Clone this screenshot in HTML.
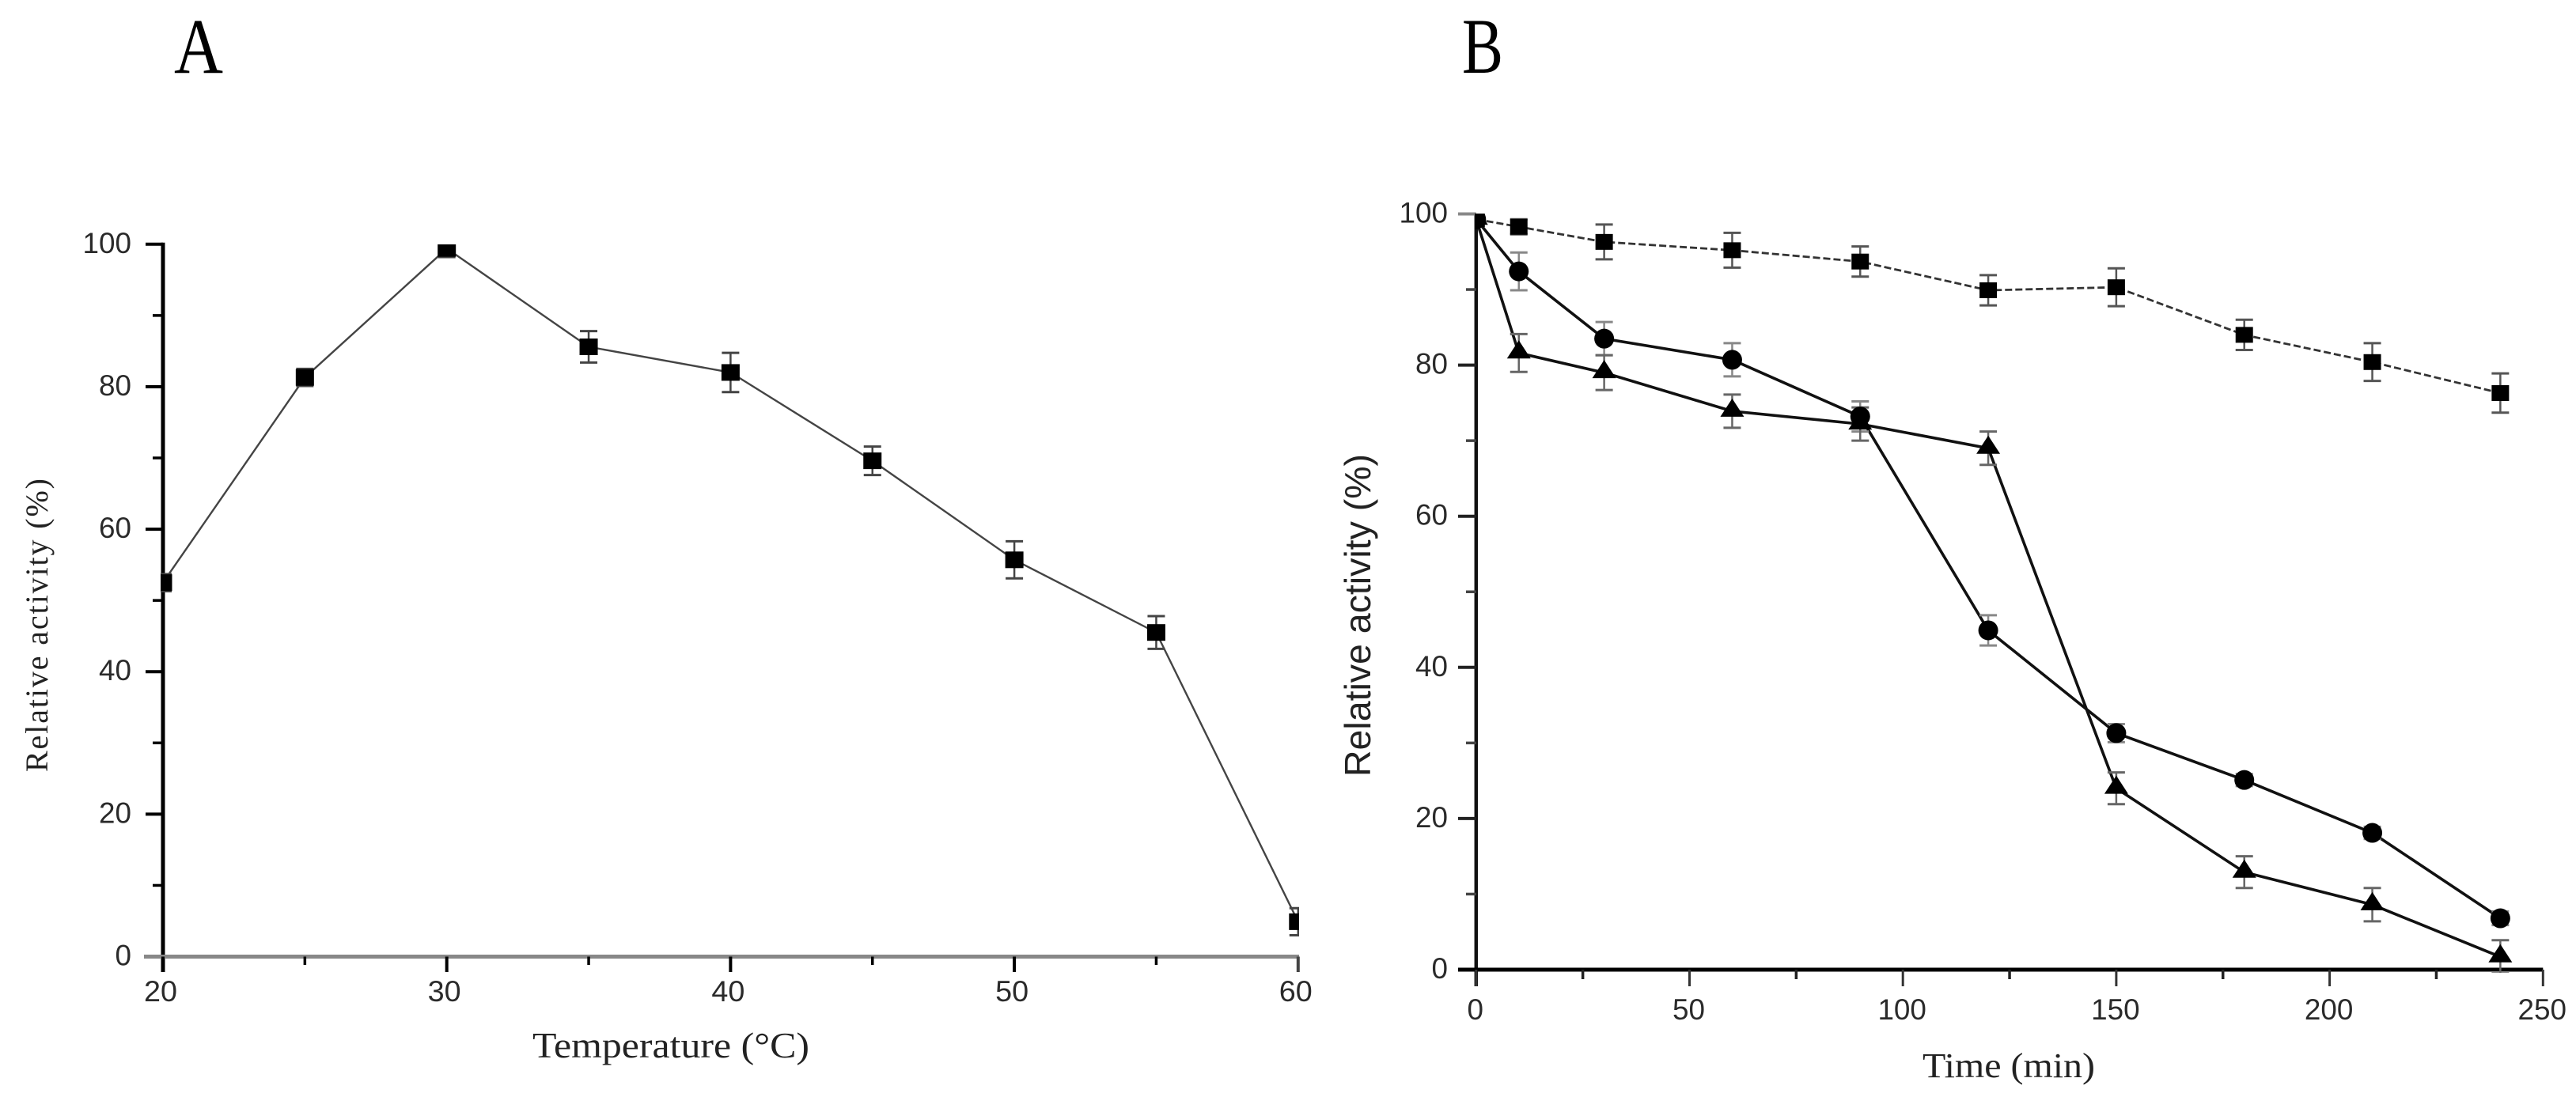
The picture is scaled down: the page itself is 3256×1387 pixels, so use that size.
<!DOCTYPE html>
<html lang="en">
<head>
<meta charset="utf-8">
<title>Relative activity vs temperature and time</title>
<style>
html,body{margin:0;padding:0;background:#fff;width:3256px;height:1387px;overflow:hidden}
svg{display:block}
.tick{fill:#2a2a2a;font-family:"Liberation Sans",sans-serif;font-size:37px}
.serif{font-family:"Liberation Serif",serif;fill:#222}
.sans{font-family:"Liberation Sans",sans-serif;fill:#222}
</style>
</head>
<body>
<svg id="figure" xmlns="http://www.w3.org/2000/svg" width="3256" height="1387" viewBox="0 0 3256 1387">
  <defs>
    <clipPath id="clipA"><rect x="203" y="309" width="1439" height="920"/></clipPath>
    <clipPath id="clipB"><rect x="1864" y="270" width="1400" height="960"/></clipPath>
  </defs>
  <text class="serif" x="220" y="92" font-size="100" textLength="62" lengthAdjust="spacingAndGlyphs" style="fill:#000">A</text>
  <text class="serif" x="1848" y="92" font-size="100" textLength="52" lengthAdjust="spacingAndGlyphs" style="fill:#000">B</text>
  <text class="serif" transform="translate(60,976) rotate(-90)" font-size="40" textLength="371">Relative activity (%)</text>
  <text class="serif" x="673" y="1337" font-size="45" textLength="350" lengthAdjust="spacingAndGlyphs">Temperature (°C)</text>
  <text class="sans" transform="translate(1732,982) rotate(-90)" font-size="46" textLength="408" lengthAdjust="spacingAndGlyphs">Relative activity (%)</text>
  <text class="serif" x="2430" y="1362" font-size="44" textLength="218" lengthAdjust="spacingAndGlyphs">Time (min)</text>
  <g id="panelA"></g>
  <g id="panelB"></g>
</svg>
<script>
const tempXMajor = [20, 30, 40, 50, 60];
const tempXMinor = [25, 35, 45, 55];
const tempYMajor = [0, 20, 40, 60, 80, 100];
const tempYMinor = [10, 30, 50, 70, 90];
const temperatures = [20, 25, 30, 35, 40, 45, 50, 55, 60];
const tempActivity = [52.5, 81.3, 99.4, 85.6, 82, 69.6, 55.7, 45.5, 4.9];
const tempError = [1.2, 1.2, 1.2, 2.2, 2.75, 2, 2.6, 2.3, 1.9];

const timeXMajor = [0, 50, 100, 150, 200, 250];
const timeXMinor = [25, 75, 125, 175, 225];
const timeYMajor = [0, 20, 40, 60, 80, 100];
const timeYMinor = [10, 30, 50, 70, 90];
const times = [0, 10, 30, 60, 90, 120, 150, 180, 210, 240];
const squareActivity = [99.3, 98.3, 96.3, 95.2, 93.7, 89.9, 90.3, 84, 80.4, 76.3];
const squareError = [0.5, 1.0, 2.3, 2.3, 2, 2, 2.5, 2, 2.5, 2.6];
const circleActivity = [99.3, 92.4, 83.5, 80.7, 73.2, 44.9, 31.3, 25.1, 18.1, 6.8];
const circleError = [0.5, 2.5, 2.2, 2.2, 2, 2, 1.2, 0.8, 0.8, 0.9];
const triangleActivity = [99.3, 81.6, 79, 73.9, 72.2, 69, 24, 12.9, 8.6, 1.7];
const triangleError = [0.5, 2.5, 2.3, 2.2, 2.2, 2.2, 2.1, 2.1, 2.2, 2.2];

const NS = 'http://www.w3.org/2000/svg';
const xA = v => 206 + (v - 20) * 35.87;
const yA = v => 1209.5 - v * 9.007;
const xB = v => 1865.8 + v * 5.394;
const yB = v => 1226 - v * 9.555;

function make(parent, tag) {
  const el = document.createElementNS(NS, tag);
  parent.appendChild(el);
  return el;
}
function rule(parent, x1, y1, x2, y2, color, width) {
  const el = make(parent, 'line');
  el.setAttribute('x1', x1);
  el.setAttribute('y1', y1);
  el.setAttribute('x2', x2);
  el.setAttribute('y2', y2);
  el.setAttribute('stroke', color);
  el.setAttribute('stroke-width', width);
  return el;
}
function label(parent, x, y, text, anchor, length) {
  const el = make(parent, 'text');
  el.setAttribute('class', 'tick');
  el.setAttribute('x', x);
  el.setAttribute('y', y);
  el.setAttribute('text-anchor', anchor);
  el.setAttribute('textLength', length);
  el.setAttribute('lengthAdjust', 'spacingAndGlyphs');
  el.textContent = text;
  return el;
}
function linePath(parent, xs, ys, sx, sy, color, width, dash) {
  const el = make(parent, 'polyline');
  el.setAttribute('points', xs.map((v, i) => sx(v).toFixed(1) + ',' + sy(ys[i]).toFixed(1)).join(' '));
  el.setAttribute('fill', 'none');
  el.setAttribute('stroke', color);
  el.setAttribute('stroke-width', width);
  if (dash) el.setAttribute('stroke-dasharray', dash);
  return el;
}
function errorBar(parent, px, top, bottom, color) {
  const g = make(parent, 'g');
  
  
  rule(g, px, top, px, bottom, color, 2.5);
  rule(g, px - 11, top, px + 11, top, color, 3);
  rule(g, px - 11, bottom, px + 11, bottom, color, 3);
  return g;
}
function squareMark(parent, px, py, w, h) {
  const el = make(parent, 'rect');
  el.setAttribute('x', px - w / 2);
  el.setAttribute('y', py - h / 2);
  el.setAttribute('width', w);
  el.setAttribute('height', h);
  el.setAttribute('fill', '#000');
  return el;
}
function circleMark(parent, px, py) {
  const el = make(parent, 'circle');
  el.setAttribute('cx', px);
  el.setAttribute('cy', py);
  el.setAttribute('r', 12.5);
  el.setAttribute('fill', '#000');
  return el;
}
function triangleMark(parent, px, py) {
  const el = make(parent, 'polygon');
  el.setAttribute('points', px + ',' + (py - 16) + ' ' + (px - 15) + ',' + (py + 7) + ' ' + (px + 15) + ',' + (py + 7));
  el.setAttribute('fill', '#000');
  return el;
}
function digitWidth(text) {
  return text.length * 20.5;
}

/* ---------- panel A ---------- */
const panelA = document.getElementById('panelA');
const axisAY = rule(panelA, xA(20), yA(100) - 2, xA(20), 1229, '#000', 5);


const axisAX = rule(panelA, 182, yA(0), 1642, yA(0), '#888', 5);


tempXMajor.forEach(v => {
  const t = rule(panelA, xA(v), yA(0), xA(v), 1229, v === 60 ? '#444' : '#000', 4);
  
  
  const s = String(v);
  const l = label(panelA, xA(v) - 3, 1266, s, 'middle', 42);
  
  
});
tempXMinor.forEach(v => {
  const t = rule(panelA, xA(v), yA(0), xA(v), 1220, '#000', 3.5);
  
  
});
tempYMajor.forEach(v => {
  if (v > 0) {
    const t = rule(panelA, 184, yA(v), xA(20), yA(v), '#000', 4);
    
    
  }
  const s = String(v);
  const l = label(panelA, 166, yA(v) + 11, s, 'end', digitWidth(s));
  
  
});
tempYMinor.forEach(v => {
  const t = rule(panelA, 193, yA(v), xA(20), yA(v), '#000', 3.5);
  
  
});
const marksA = make(panelA, 'g');
marksA.setAttribute('clip-path', 'url(#clipA)');


const lineA = linePath(marksA, temperatures, tempActivity, xA, yA, '#444', 2.4);


temperatures.forEach((v, i) => {
  errorBar(marksA, xA(v), yA(tempActivity[i] + tempError[i]), yA(tempActivity[i] - tempError[i]), '#444');
  const m = squareMark(marksA, xA(v), yA(tempActivity[i]), 23, 21);
  
  
});

/* ---------- panel B ---------- */
const panelB = document.getElementById('panelB');
const axisBY = rule(panelB, xB(0), yB(100), xB(0), 1247, '#111', 4.5);


const axisBX = rule(panelB, 1843, yB(0), xB(250), yB(0), '#000', 5);


timeXMajor.forEach(v => {
  const t = rule(panelB, xB(v), yB(0), xB(v), 1247, '#333', 3);
  
  
  const s = String(v);
  const l = label(panelB, xB(v) - 1, 1289, s, 'middle', digitWidth(s));
  
  
});
timeXMinor.forEach(v => {
  const t = rule(panelB, xB(v), yB(0), xB(v), 1238, '#222', 3.5);
  
  
});
timeYMajor.forEach(v => {
  if (v > 0) {
    const t = rule(panelB, 1843, yB(v), xB(0), yB(v), v === 100 ? '#888' : '#222', 4);
    
    
  }
  const s = String(v);
  const l = label(panelB, 1830, yB(v) + 11, s, 'end', digitWidth(s));
  
  
});
timeYMinor.forEach(v => {
  const t = rule(panelB, 1853, yB(v), xB(0), yB(v), '#444', 3.5);
  
  
});
const marksB = make(panelB, 'g');
marksB.setAttribute('clip-path', 'url(#clipB)');



const lineSquare = linePath(marksB, times, squareActivity, xB, yB, '#333', 2.8, '9 4');


const lineCircle = linePath(marksB, times, circleActivity, xB, yB, '#111', 3.6);


const lineTriangle = linePath(marksB, times, triangleActivity, xB, yB, '#111', 3.6);



times.forEach((v, i) => {
  if (i > 0) {
    errorBar(marksB, xB(v), yB(squareActivity[i] + squareError[i]), yB(squareActivity[i] - squareError[i]), '#555');
    errorBar(marksB, xB(v), yB(circleActivity[i] + circleError[i]), yB(circleActivity[i] - circleError[i]), '#888');
    errorBar(marksB, xB(v), yB(triangleActivity[i] + triangleError[i]), yB(triangleActivity[i] - triangleError[i]), '#666');
  }
  const sq = squareMark(marksB, xB(v), yB(squareActivity[i]), 22, 20);
  
  
  const ci = circleMark(marksB, xB(v), yB(circleActivity[i]));
  
  
  const tr = triangleMark(marksB, xB(v), yB(triangleActivity[i]));
  
  
});
</script>
</body>
</html>
